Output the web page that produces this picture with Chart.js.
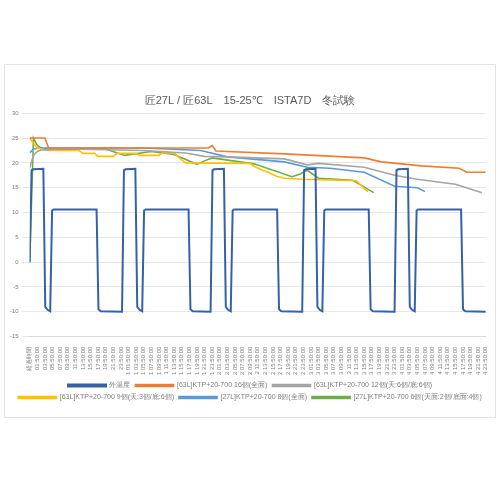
<!DOCTYPE html>
<html>
<head>
<meta charset="utf-8">
<script src="https://cdn.jsdelivr.net/npm/chart.js@4"></script>
<style>
  body { margin: 0; background: #fff; font-family: "Noto Sans CJK JP", "Noto Sans", sans-serif; }
  #box { position: absolute; left: 4px; top: 64px; width: 490px; height: 352px; border: 1px solid #e4e4e4; }
</style>
</head>
<body>
<div id="box"><canvas id="chart"></canvas></div>
<script>
// x tick labels, one every 2 hours
var tickLabels = ["経過時間",
  "01:50:00","03:50:00","05:50:00","07:50:00","09:50:00","11:50:00","13:50:00","15:50:00","17:50:00","19:50:00","21:50:00","23:50:00",
  "1 01:50:00","1 03:50:00","1 05:50:00","1 07:50:00","1 09:50:00","1 11:50:00","1 13:50:00","1 15:50:00","1 17:50:00","1 19:50:00","1 21:50:00","1 23:50:00",
  "2 01:50:00","2 03:50:00","2 05:50:00","2 07:50:00","2 09:50:00","2 11:50:00","2 13:50:00","2 15:50:00","2 17:50:00","2 19:50:00","2 21:50:00","2 23:50:00",
  "3 01:50:00","3 03:50:00","3 05:50:00","3 07:50:00","3 09:50:00","3 11:50:00","3 13:50:00","3 15:50:00","3 17:50:00","3 19:50:00","3 21:50:00","3 23:50:00",
  "4 01:50:00","4 03:50:00","4 05:50:00","4 07:50:00","4 09:50:00","4 11:50:00","4 13:50:00","4 15:50:00","4 17:50:00","4 19:50:00","4 21:50:00","4 23:50:00"];

// chamber temperature (hours, °C)
var roomHours = [0,0.5,1,3.6,4.1,4.7,5.4,5.9,6.3,17.6,18.1,18.7,
  24.3,24.8,25.2,27.8,28.3,28.9,29.6,30.1,30.5,41.8,42.3,42.9,
  47.6,48.1,48.5,51.1,51.6,52.2,52.9,53.4,53.8,65.1,65.6,66.2,
  71.7,72.2,72.6,75.2,75.7,76.3,77.0,77.5,77.9,89.2,89.7,90.3,
  96.0,96.5,96.9,99.5,100,100.6,101.3,101.8,102.2,113.5,114,114.6,120];
var roomTemp = [0,18.5,18.7,18.8,-9.0,-9.6,-9.9,10.4,10.6,10.6,-9.5,-9.9,
  -10,18.5,18.7,18.8,-9.0,-9.6,-9.9,10.4,10.6,10.6,-9.5,-9.9,
  -10,18.5,18.7,18.8,-9.0,-9.6,-9.9,10.4,10.6,10.6,-9.5,-9.9,
  -10,18.5,18.7,18.8,-9.0,-9.6,-9.9,10.4,10.6,10.6,-9.5,-9.9,
  -10,18.5,18.7,18.8,-9.0,-9.6,-9.9,10.4,10.6,10.6,-9.5,-9.9,-10];

var l63full16Hours = [0,4,5,47,48,49,67,88,92.5,103,113,115,120];
var l63full16Temp  = [25,25,23,23,23.5,22.4,21.8,21.0,20.2,19.4,18.9,18.1,18.1];

var l63mix12Hours = [0,1,2,3,10,30,41,46,52,67,73,76,88,96,102,112,119];
var l63mix12Temp  = [19,21.5,22.3,22.6,22.8,22.5,22.0,21.3,21.2,20.8,19.6,19.9,19.1,17.5,16.7,15.7,14.0];

var l63mix9Hours = [0,1,2,5,13,14,17,18,22,23,28,29,34,35,38,40,41,58,59,61,63,65,67,72,86,87,88,89];
var l63mix9Temp  = [25,24,23,22.5,22.5,21.9,21.9,21.3,21.3,21.9,21.9,21.5,21.5,22,22,20.6,20.0,19.9,19.3,18.6,18.0,17.3,16.9,16.7,16.4,15.6,14.8,14.2];

var l27full8Hours = [0,1,3,30,45,52,67,73,79,88,96,102,104];
var l27full8Temp  = [22,22.8,23,23,22.5,21.2,20.2,19.1,18.9,18.1,15.3,15.0,14.2];

var l27mix6Hours = [0,1,2,3,5,20,25,32,38,44,46,48,59,69,71,73,76,85,90.5];
var l27mix6Temp  = [0,25,23.5,23,22.8,22.8,21.5,22.3,21.7,19.7,20.4,21.0,19.8,17.2,17.7,18.5,16.9,16.5,14.0];

var seriesNames = ["外温度","[63L]KTP+20-700 16個(全面)","[63L]KTP+20-700 12個(天:6個/底:6個)",
  "[63L]KTP+20-700 9個(天:3個/底:6個)","[27L]KTP+20-700 8個(全面)","[27L]KTP+20-700 6個(天面:2個/底面:4個)"];
var seriesColors = ["#3461a8","#ed7d31","#a5a5a5","#ffc000","#5b9bd5","#70ad47"];

function pts(hours, temps) {
  return hours.map(function (h, i) { return { x: h, y: temps[i] }; });
}

var allData = [
  pts(roomHours, roomTemp), pts(l63full16Hours, l63full16Temp), pts(l63mix12Hours, l63mix12Temp),
  pts(l63mix9Hours, l63mix9Temp), pts(l27full8Hours, l27full8Temp), pts(l27mix6Hours, l27mix6Temp)
];

new Chart(document.getElementById("chart"), {
  type: "line",
  data: {
    datasets: allData.map(function (d, i) {
      return {
        label: seriesNames[i], data: d,
        borderColor: seriesColors[i], backgroundColor: seriesColors[i],
        borderWidth: i === 0 ? 2 : 1.6, pointRadius: 0, fill: false, tension: 0
      };
    })
  },
  options: {
    responsive: true, maintainAspectRatio: false, animation: false,
    layout: { padding: { left: 2, right: 2, top: 0, bottom: 6 } },
    scales: {
      x: {
        type: "linear", min: 0, max: 120,
        grid: { display: false },
        border: { color: "#d9d9d9" },
        afterBuildTicks: function (axis) {
          axis.ticks = tickLabels.map(function (t, i) { return { value: i * 2 }; });
        },
        ticks: {
          autoSkip: false, maxRotation: 90, minRotation: 90, color: "#7f7f7f",
          font: { size: 6 }, padding: 2,
          callback: function (v) { return tickLabels[Math.round(v / 2)]; }
        }
      },
      y: {
        min: -15, max: 30,
        ticks: { stepSize: 5, color: "#7f7f7f", font: { size: 6 }, padding: 3 },
        grid: { color: "#e6e6e6" },
        border: { display: false }
      }
    },
    plugins: {
      title: {
        display: true, text: "匠27L / 匠63L　15-25℃　ISTA7D　冬試験",
        color: "#595959", font: { size: 11, weight: "normal" }, padding: { top: 29, bottom: 6 }
      },
      legend: {
        position: "bottom",
        labels: { boxWidth: 38, boxHeight: 2, color: "#7f7f7f", font: { size: 7 }, padding: 5 }
      }
    }
  }
});
</script>
</body>
</html>
